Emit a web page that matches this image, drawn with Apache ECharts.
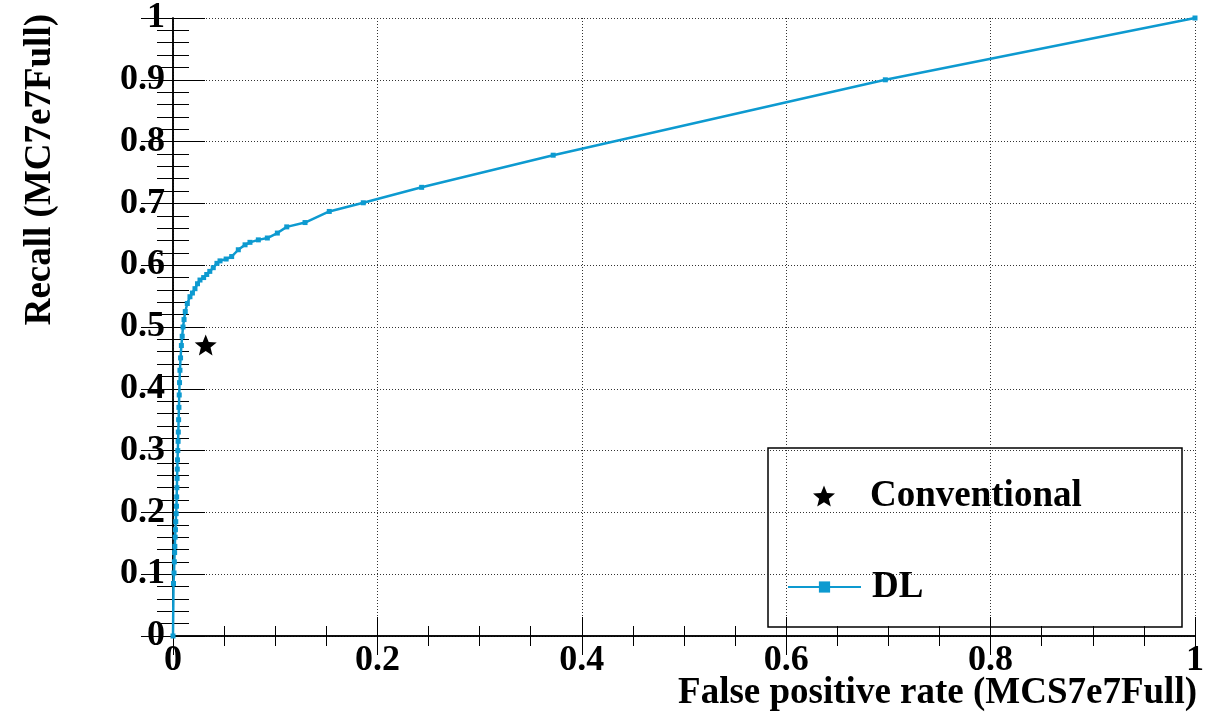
<!DOCTYPE html>
<html>
<head>
<meta charset="utf-8">
<script src="https://cdn.jsdelivr.net/npm/echarts@6/dist/echarts.min.js"></script>
<style>
    html, body { margin: 0; padding: 0; background: #fff; }
    #chart { width: 1225px; height: 716px; }
</style>
</head>
<body>
<div id="chart"></div>
<script>
// ROC curve, DL vs conventional
var dlFpr = [0, 0.0005, 0.0010, 0.0013, 0.0016, 0.0018, 0.0021, 0.0024, 0.0027, 0.0031,
    0.0034, 0.0036, 0.0038, 0.0040, 0.0042, 0.0044, 0.0047, 0.0050, 0.0052, 0.0055,
    0.0058, 0.0061, 0.0064, 0.0068, 0.0074, 0.0082, 0.0090, 0.0098, 0.0108, 0.0120,
    0.0140, 0.0166, 0.019, 0.0215, 0.024, 0.0264, 0.030, 0.033, 0.036, 0.0394,
    0.043, 0.046, 0.052, 0.0574, 0.0639, 0.0705, 0.0753, 0.0835, 0.0923, 0.1021,
    0.1113, 0.1292, 0.1529, 0.1862, 0.2433, 0.372, 0.697, 1]
var dlRecall = [0, 0.085, 0.102, 0.12, 0.135, 0.145, 0.16, 0.172, 0.185, 0.198,
    0.21, 0.225, 0.24, 0.255, 0.27, 0.285, 0.30, 0.315, 0.33, 0.35,
    0.37, 0.39, 0.41, 0.43, 0.45, 0.47, 0.485, 0.50, 0.512, 0.525,
    0.538, 0.549, 0.555, 0.562, 0.570, 0.576, 0.580, 0.585, 0.590, 0.596,
    0.603, 0.607, 0.610, 0.614, 0.625, 0.633, 0.637, 0.641, 0.644, 0.652,
    0.662, 0.669, 0.687, 0.701, 0.726, 0.778, 0.900, 1]
var convFpr = [0.032]
var convRecall = [0.471]

var xTitle = 'False positive rate (MCS7e7Full)'
var yTitle = 'Recall (MC7e7Full)'

var serif = 'Liberation Serif'
var blue = '#0d9ad0'
var star = 'path://M50 0 L62.93 32.2 L97.55 34.55 L70.92 56.8 L79.39 90.45 L50 72 L20.61 90.45 L29.08 56.8 L2.45 34.55 L37.07 32.2 Z'

function zip(a, b) {
    return a.map(function (v, i) { return [v, b[i]] })
}

var chart = echarts.init(document.getElementById('chart'))

var frameLine = { show: true, lineStyle: { color: '#000', width: 1.5 } }
var gridLine = { show: true, lineStyle: { color: '#333', width: 1, type: [1, 2] } }

chart.setOption({
    animation: false,
    grid: { left: 173, right: 30, top: 17, bottom: 80 },
    xAxis: [
        {
            type: 'value', min: 0, max: 1, interval: 0.2, position: 'bottom',
            axisLine: frameLine,
            axisTick: { inside: true, length: 19, lineStyle: { color: '#000' } },
            minorTick: { show: true, splitNumber: 4, length: 10, lineStyle: { color: '#000' } },
            splitLine: gridLine,
            axisLabel: { margin: 7, fontFamily: serif, fontWeight: 'bold', fontSize: 36, color: '#000' }
        },
        {
            type: 'value', min: 0, max: 1, interval: 0.2, position: 'top',
            axisLine: frameLine,
            axisTick: { inside: true, length: 19, lineStyle: { color: '#000' } },
            minorTick: { show: true, splitNumber: 4, length: 10, lineStyle: { color: '#000' } },
            splitLine: { show: false },
            axisLabel: { show: false }
        }
    ],
    yAxis: [
        {
            type: 'value', min: 0, max: 1, interval: 0.1, position: 'left',
            axisLine: frameLine,
            axisTick: { inside: true, length: 32, lineStyle: { color: '#000' } },
            minorTick: { show: true, splitNumber: 5, length: 16, lineStyle: { color: '#000' } },
            splitLine: gridLine,
            axisLabel: { margin: 8, fontFamily: serif, fontWeight: 'bold', fontSize: 36, color: '#000' }
        },
        {
            type: 'value', min: 0, max: 1, interval: 0.1, position: 'right',
            axisLine: frameLine,
            axisTick: { inside: true, length: 32, lineStyle: { color: '#000' } },
            minorTick: { show: true, splitNumber: 5, length: 16, lineStyle: { color: '#000' } },
            splitLine: { show: false },
            axisLabel: { show: false }
        }
    ],
    legend: [
        {
            data: ['Conventional'],
            left: 808, top: 471,
            itemWidth: 22, itemHeight: 22,
            textStyle: { fontFamily: serif, fontWeight: 'bold', fontSize: 37, color: '#000', lineHeight: 40, padding: [0, 0, 0, 30] }
        },
        {
            data: ['DL'],
            left: 782, top: 562,
            itemWidth: 73, itemHeight: 14,
            textStyle: { fontFamily: serif, fontWeight: 'bold', fontSize: 37, color: '#000', lineHeight: 40, padding: [0, 0, 0, 6] }
        }
    ],
    graphic: [
        {
            type: 'rect', z: 0,
            shape: { x: 768, y: 448, width: 414, height: 179 },
            style: { fill: '#fff', stroke: '#000', lineWidth: 1.5 }
        },
        {
            type: 'text', x: 1197, y: 693,
            style: { text: xTitle, align: 'right', verticalAlign: 'middle', font: 'bold 37px "Liberation Serif"', fill: '#000' }
        },
        {
            type: 'text', x: 40, y: 14, rotation: Math.PI / 2,
            style: { text: yTitle, align: 'right', verticalAlign: 'middle', font: 'bold 37px "Liberation Serif"', fill: '#000' }
        }
    ],
    series: [
        {
            name: 'DL',
            type: 'line',
            data: zip(dlFpr, dlRecall),
            symbol: 'rect',
            symbolSize: 5,
            showSymbol: true,
            color: blue,
            lineStyle: { color: blue, width: 2.5 },
            z: 3
        },
        {
            name: 'Conventional',
            type: 'scatter',
            data: zip(convFpr, convRecall),
            symbol: star,
            symbolSize: 22,
            symbolKeepAspect: true,
            itemStyle: { color: '#000', opacity: 1 },
            z: 4
        }
    ]
})
</script>
</body>
</html>
